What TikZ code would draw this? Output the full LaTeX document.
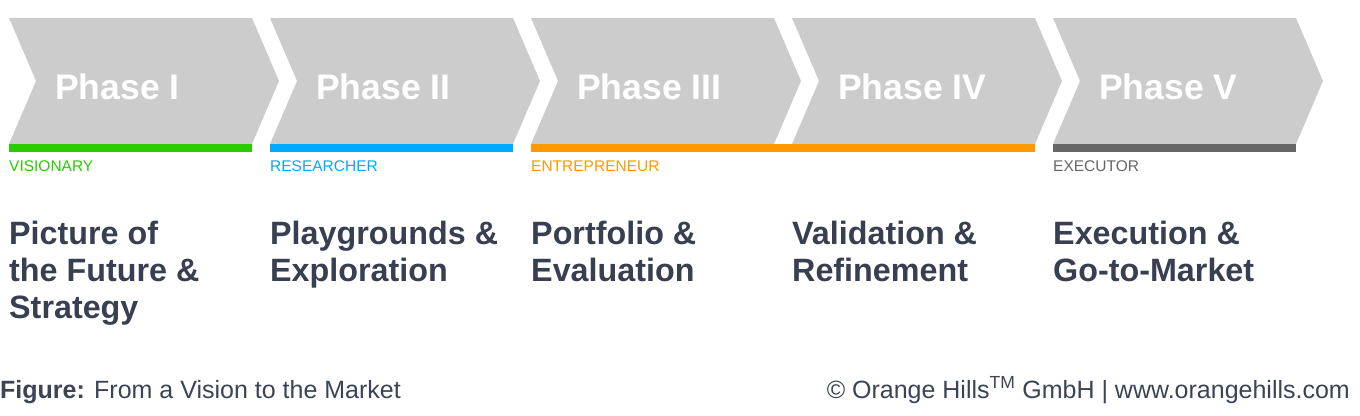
\documentclass[tikz,border=0pt]{standalone}
\usepackage{fontspec}
\setmainfont{Liberation Sans}
\definecolor{chev}{HTML}{CCCCCC}
\definecolor{cgreen}{HTML}{2ACC00}
\definecolor{cblue}{HTML}{00AAFF}
\definecolor{corange}{HTML}{FF9900}
\definecolor{cgray}{HTML}{666666}
\definecolor{ctitle}{HTML}{373F50}
\definecolor{ccap}{HTML}{3B4454}
\newcommand{\titlelines}[1]{\vtop{#1}}
\begin{document}
\begin{tikzpicture}[x=1pt,y=-1pt,
  chevron/.style={fill=chev},
  phaselabel/.style={anchor=base west,inner sep=0pt,text=white,font=\fontsize{35.5}{40}\selectfont\bfseries},
  rolelabel/.style={anchor=base west,inner sep=0pt,font=\fontsize{15.5}{18}\selectfont},
  titlelabel/.style={anchor=base west,inner sep=0pt,text=ctitle,font=\fontsize{32.3}{37}\selectfont\bfseries},
  caplabel/.style={anchor=base west,inner sep=0pt,text=ccap,font=\fontsize{25}{28}\selectfont}]
\useasboundingbox (0,0) rectangle (1360,415);
% chevrons
\foreach \i in {0,1,2,3,4}{
  \pgfmathsetmacro{\xl}{9+261*\i}
  \fill[chevron] (\xl,18) -- (\xl+243,18) -- (\xl+270,81) -- (\xl+243,144) -- (\xl,144) -- (\xl+27,81) -- cycle;
}
% bars
\fill[cgreen] (9,144) rectangle (252,152);
\fill[cblue] (270,144) rectangle (513,152);
\fill[corange] (531,144) rectangle (1035,152);
\fill[cgray] (1053,144) rectangle (1296,152);
% phase labels
\node[phaselabel] (p1) at (55,99) {Phase I};
\node[phaselabel] (p2) at (316,99) {Phase II};
\node[phaselabel] (p3) at (577,99) {Phase III};
\node[phaselabel] (p4) at (838,99) {Phase IV};
\node[phaselabel] (p5) at (1099,99) {Phase V};
% roles
\node[rolelabel,text=cgreen] (r1) at (9,171) {VISIONARY};
\node[rolelabel,text=cblue] (r2) at (270,171) {RESEARCHER};
\node[rolelabel,text=corange] (r3) at (531,171) {ENTREPRENEUR};
\node[rolelabel,text=cgray] (r5) at (1053,171) {EXECUTOR};
% titles
\node[titlelabel] (t1) at (9,244) {\titlelines{\hbox{Picture of}\hbox{the Future \&}\hbox{Strategy}}};
\node[titlelabel] (t2) at (270,244) {\titlelines{\hbox{Playgrounds \&}\hbox{Exploration}}};
\node[titlelabel] (t3) at (531,244) {\titlelines{\hbox{Portfolio \&}\hbox{Evaluation}}};
\node[titlelabel] (t4) at (792,244) {\titlelines{\hbox{Validation \&}\hbox{Refinement}}};
\node[titlelabel] (t5) at (1053,244) {\titlelines{\hbox{Execution \&}\hbox{Go-to-Market}}};
% captions
\node[caplabel] (cap) at (0,398) {\textbf{Figure:} From a Vision to the Market};
\node[caplabel,anchor=base east] (copy) at (1350,398) {© Orange Hills\textsuperscript{TM} GmbH | www.orangehills.com};
\end{tikzpicture}
\end{document}
